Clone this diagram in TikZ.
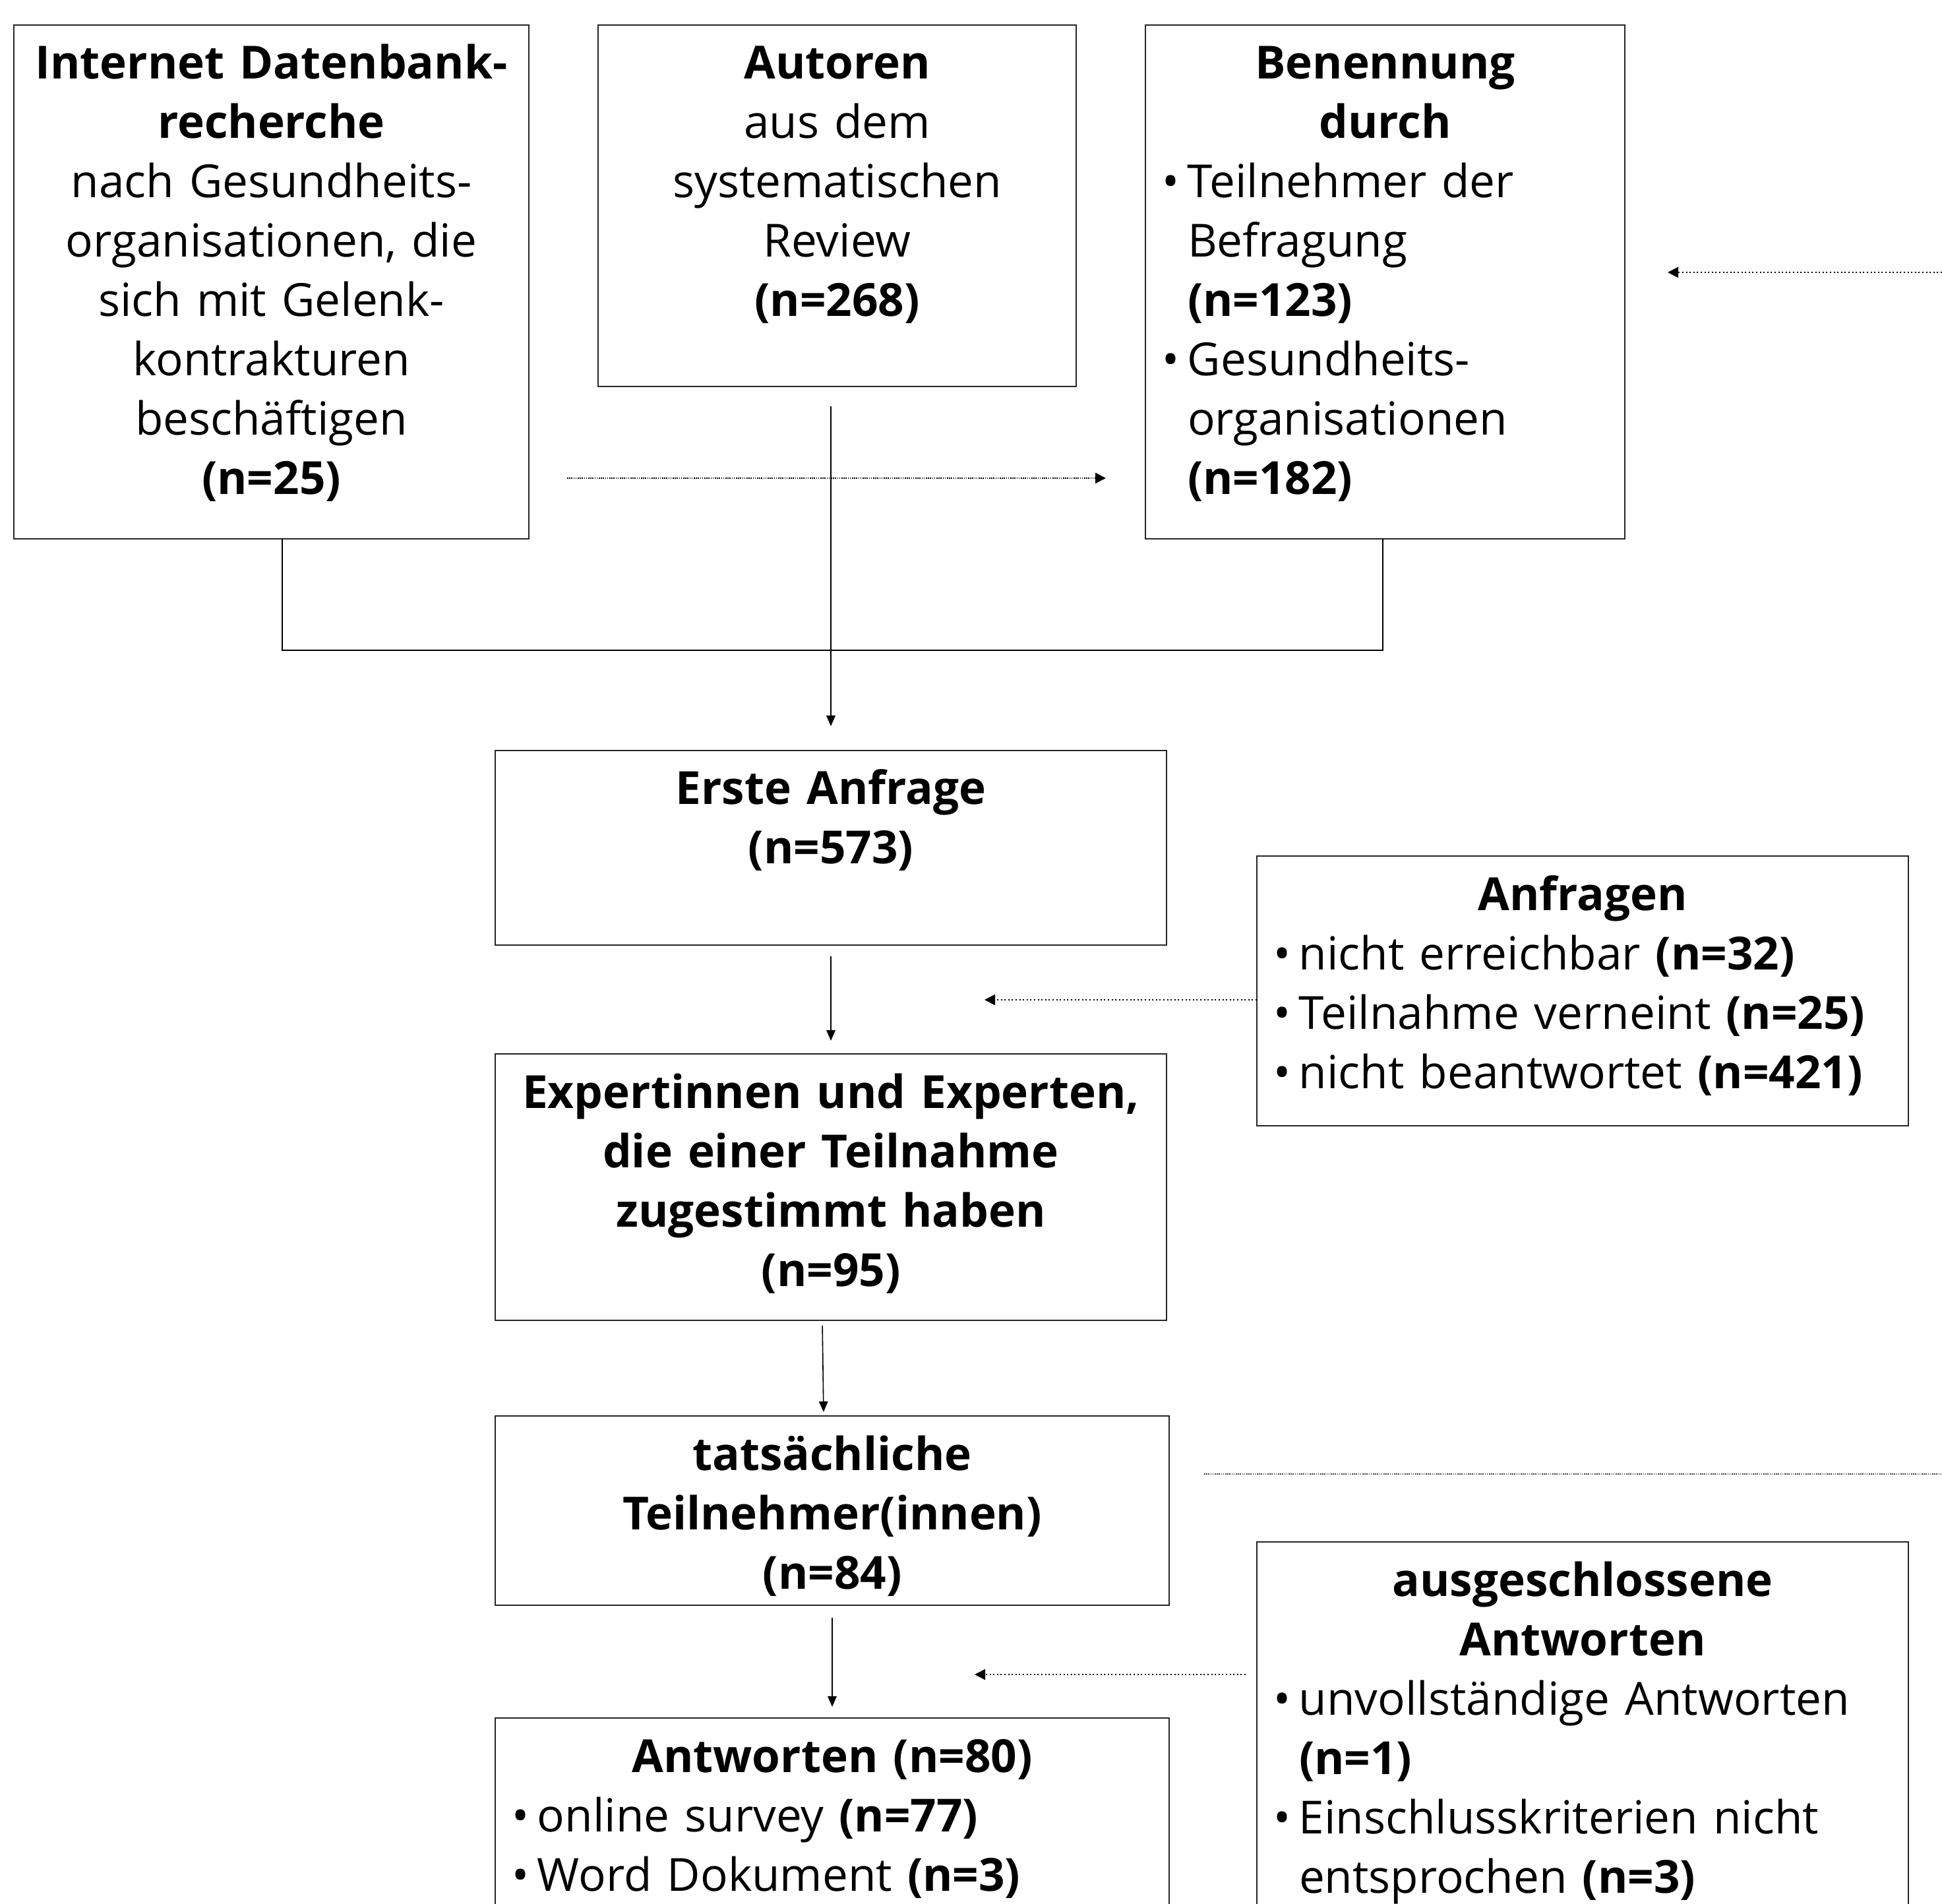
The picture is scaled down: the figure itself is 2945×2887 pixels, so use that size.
\documentclass[tikz,border=0pt]{standalone}
\usepackage{fontspec}
\setmainfont{Open Sans}
\usetikzlibrary{arrows.meta,calc,fit}
\begin{document}
\begin{tikzpicture}[x=0.25pt,y=-0.25pt,
  box/.style={draw=black!85,line width=0.6pt,inner sep=0pt,outer sep=0pt},
  txt/.style={font=\fontsize{17.3}{22.5}\selectfont,inner sep=0pt,outer sep=0pt,text width=240pt,align=center,anchor=base},
  lst/.style={font=\fontsize{17.3}{22.5}\selectfont,inner sep=0pt,outer sep=0pt,text width=240pt,align=left,anchor=base west},
  arr/.style={line width=0.4pt,-{Triangle[length=4pt,width=3.4pt]}},
  dotarr/.style={line width=0.55pt,dash pattern=on 0.5pt off 0.9pt,-{Triangle[length=4pt,width=4pt]}},
  densearr/.style={line width=0.55pt,dash pattern=on 0.4pt off 0.4pt,-{Triangle[length=4pt,width=4pt]}},
  dotline/.style={line width=0.55pt,black!75,dash pattern=on 0.4pt off 0.4pt},
  conn/.style={line width=0.5pt}]
\newcommand{\bul}{\makebox[9.75pt][l]{•}}
\newcommand{\ind}{\hspace*{9.75pt}}
\useasboundingbox (0,0) rectangle (2945,2887);
\clip (0,0) rectangle (2945,2887);

% boxes
\node[box,fit={(21,38) (802,817)}] (A) {};
\node[box,fit={(907,38) (1632,586)}] (B) {};
\node[box,fit={(1737,38) (2464,817)}] (C) {};
\node[box,fit={(751,1138) (1769,1433)}] (D) {};
\node[box,fit={(1906,1298) (2894,1707)}] (E) {};
\node[box,fit={(751,1598) (1769,2002)}] (F) {};
\node[box,fit={(751,2147) (1773,2434)}] (G) {};
\node[box,fit={(1906,2338) (2894,2960)}] (H) {};
\node[box,fit={(751,2605) (1773,2960)}] (I) {};

% texts
\node[txt] (At) at ($(A.north)+(0,82)$) {\textbf{Internet Datenbank-}\\\textbf{recherche}\\nach Gesundheits-\\organisationen, die\\sich mit Gelenk-\\kontrakturen\\beschäftigen\\\textbf{(n=25)}};
\node[txt] (Bt) at ($(B.north)+(0,82)$) {\textbf{Autoren}\\aus dem\\systematischen\\Review\\\textbf{(n=268)}};
\node[txt] (Ct) at ($(C.north)+(0,82)$) {\textbf{Benennung}\\\textbf{durch}};
\node[lst] (Cl) at ($(C.north west)+(25,262)$) {\bul Teilnehmer der\\\ind Befragung\\\ind\textbf{(n=123)}\\\bul Gesundheits-\\\ind organisationen\\\ind\textbf{(n=182)}};
\node[txt] (Dt) at ($(D.north)+(0,82)$) {\textbf{Erste Anfrage}\\\textbf{(n=573)}};
\node[txt] (Et) at ($(E.north)+(0,82)$) {\textbf{Anfragen}};
\node[lst] (El) at ($(E.north west)+(25,172)$) {\bul nicht erreichbar \textbf{(n=32)}\\\bul Teilnahme verneint \textbf{(n=25)}\\\bul nicht beantwortet \textbf{(n=421)}};
\node[txt] (Ft) at ($(F.north)+(0,82)$) {\textbf{Expertinnen und Experten,}\\\textbf{die einer Teilnahme}\\\textbf{zugestimmt haben}\\\textbf{(n=95)}};
\node[txt] (Gt) at ($(G.north)+(0,82)$) {\textbf{tatsächliche}\\\textbf{Teilnehmer(innen)}\\\textbf{(n=84)}};
\node[txt] (Ht) at ($(H.north)+(0,82)$) {\textbf{ausgeschlossene}\\\textbf{Antworten}};
\node[lst] (Hl) at ($(H.north west)+(25,262)$) {\bul unvollständige Antworten\\\ind\textbf{(n=1)}\\\bul Einschlusskriterien nicht\\\ind entsprochen \textbf{(n=3)}};
\node[txt] (It) at ($(I.north)+(0,82)$) {\textbf{Antworten (n=80)}};
\node[lst] (Il) at ($(I.north west)+(25,172)$) {\bul online survey \textbf{(n=77)}\\\bul Word Dokument \textbf{(n=3)}};

% connectors
\coordinate (yAC) at (0,725);
\draw[densearr,shorten <=14.5pt,shorten >=15pt] (A.east |- yAC) -- (C.west |- yAC);
\draw[conn] ([xshift=4pt]A.south) -- ++(0,169) -| ([xshift=-1pt]C.south);
\draw[arr,shorten <=7.5pt,shorten >=9.25pt] (B.south -| D.north) -- (D.north);
\coordinate (rC) at (2945,413);
\draw[dotarr,shorten >=16.25pt] (rC) -- (C.east |- rC);
\draw[arr,shorten <=4.25pt,shorten >=5pt] (D.south) -- (F.north);
\coordinate (tE) at (1493,1516);
\draw[dotarr] (E.west |- tE) -- (tE);
\draw[arr,shorten <=2pt,shorten >=1.5pt] ([xshift=-3.25pt]F.south) -- ([xshift=-3.25pt]G.north);
\coordinate (rG) at (2945,2235);
\draw[dotline,shorten <=13.25pt] (G.east |- rG) -- (rG);
\coordinate (tH) at (1478,2539);
\draw[dotarr,shorten <=4.25pt] (H.west |- tH) -- (tH);
\draw[arr,shorten <=4.75pt,shorten >=4.25pt] (G.south) -- (I.north);
\end{tikzpicture}
\end{document}
